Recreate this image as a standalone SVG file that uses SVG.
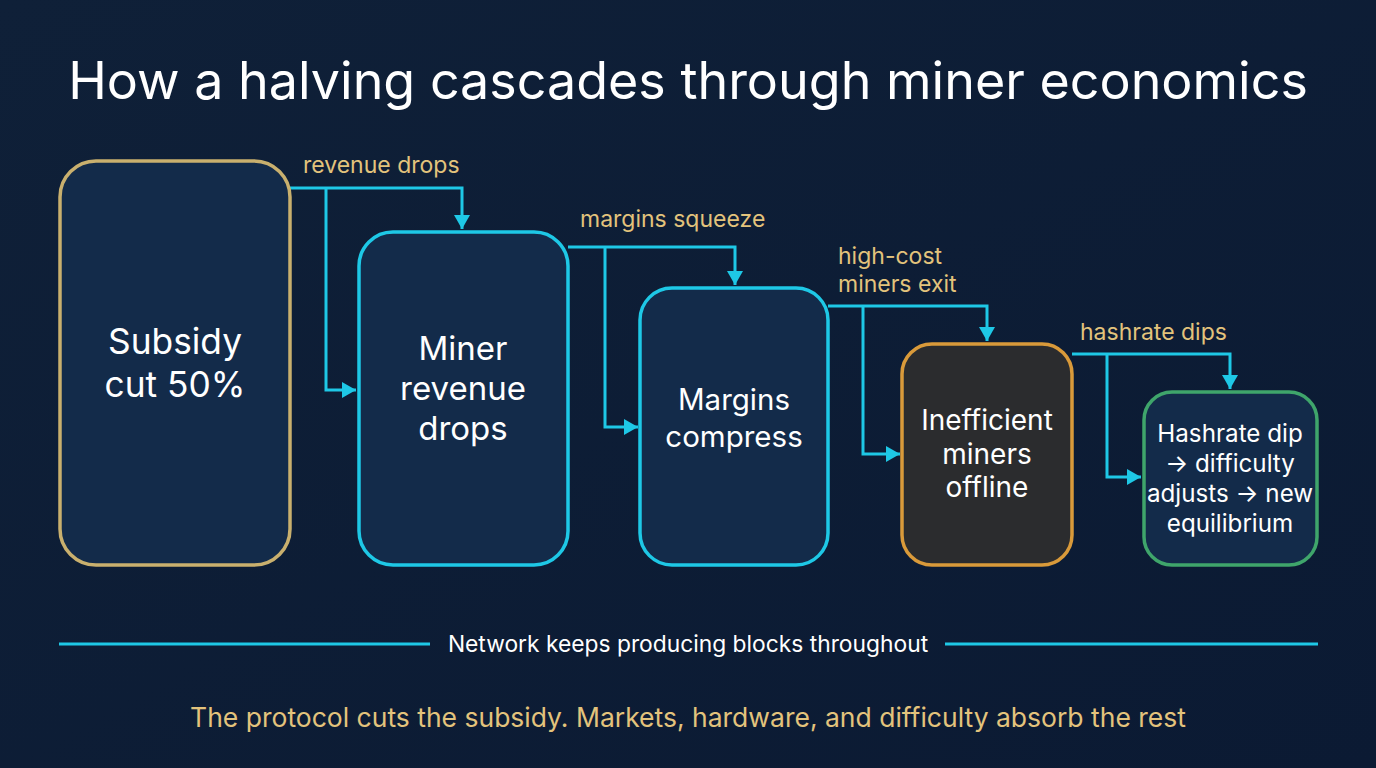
<svg xmlns="http://www.w3.org/2000/svg" width="1376" height="768" viewBox="0 0 1376 768">
<defs>
<linearGradient id="bg" x1="0" y1="0" x2="1" y2="1">
<stop offset="0" stop-color="#0f2038"/>
<stop offset="1" stop-color="#0b1a33"/>
</linearGradient>
<marker id="ah" viewBox="0 0 14 16" refX="14" refY="8" markerWidth="14" markerHeight="16" markerUnits="userSpaceOnUse" orient="auto">
<path d="M0,0 L14,8 L0,16 Z" fill="#1ec8e6"/>
</marker>
<style>
.title{font-family:Inter,"Noto Sans","Liberation Sans",sans-serif;font-size:52px;fill:#ffffff;text-anchor:middle}
.node{fill:#132b4a;stroke-width:3.5}
.nt{font-family:Inter,"Noto Sans","Liberation Sans",sans-serif;fill:#ffffff;text-anchor:middle}
.lbl{font-family:Inter,"Noto Sans","Liberation Sans",sans-serif;font-size:23px;fill:#e3c37c}
.conn{fill:none;stroke:#1ec8e6;stroke-width:3}
.foot{font-family:Inter,"Noto Sans","Liberation Sans",sans-serif;font-size:26.5px;fill:#e3c37c;text-anchor:middle}
.net{font-family:Inter,"Noto Sans","Liberation Sans",sans-serif;font-size:22.8px;fill:#ffffff;text-anchor:middle}
</style>
</defs>
<rect width="1376" height="768" fill="url(#bg)"/>
<text class="title" x="688" y="99">How a halving cascades through miner economics</text>

<g id="connectors">
<path class="conn" d="M290,188 H462 V229" marker-end="url(#ah)"/>
<path class="conn" d="M326,188 V390 H356" marker-end="url(#ah)"/>
<path class="conn" d="M568,247 H735 V285" marker-end="url(#ah)"/>
<path class="conn" d="M605,247 V427 H638" marker-end="url(#ah)"/>
<path class="conn" d="M828,306 H987 V341" marker-end="url(#ah)"/>
<path class="conn" d="M863,306 V454 H900" marker-end="url(#ah)"/>
<path class="conn" d="M1072,354 H1230 V389" marker-end="url(#ah)"/>
<path class="conn" d="M1107,354 V477 H1141" marker-end="url(#ah)"/>
<text class="lbl" x="303" y="173">revenue drops</text>
<text class="lbl" x="580" y="227">margins squeeze</text>
<text class="lbl" x="838" y="264">high-cost</text>
<text class="lbl" x="838" y="292">miners exit</text>
<text class="lbl" x="1080" y="340">hashrate dips</text>
</g>

<g id="n1">
<rect class="node" x="60" y="161" width="230" height="404" rx="36" stroke="#c9b06e"/>
<text class="nt" font-size="35.3" x="175" y="354">Subsidy</text>
<text class="nt" font-size="35.3" x="175" y="397">cut 50%</text>
</g>
<g id="n2">
<rect class="node" x="359" y="232" width="209" height="333" rx="34" stroke="#1ec8e6"/>
<text class="nt" font-size="33" x="463" y="360">Miner</text>
<text class="nt" font-size="33" x="463" y="400">revenue</text>
<text class="nt" font-size="33" x="463" y="440">drops</text>
</g>
<g id="n3">
<rect class="node" x="640" y="288" width="188" height="277" rx="32" stroke="#1ec8e6"/>
<text class="nt" font-size="29.5" x="734" y="410">Margins</text>
<text class="nt" font-size="29.5" x="734" y="447">compress</text>
</g>
<g id="n4">
<rect x="902" y="344" width="170" height="221" rx="30" fill="#2b2c2e" stroke="#d99a3a" stroke-width="3.5"/>
<text class="nt" font-size="28" x="987" y="430">Inefficient</text>
<text class="nt" font-size="28" x="987" y="464">miners</text>
<text class="nt" font-size="28" x="987" y="497">offline</text>
</g>
<g id="n5">
<rect class="node" x="1144" y="392" width="173" height="173" rx="28" stroke="#3fa56b"/>
<text class="nt" font-size="24.2" x="1230" y="442">Hashrate dip</text>
<text class="nt" font-size="24.2" x="1230" y="472">→ difficulty</text>
<text class="nt" font-size="24.2" x="1230" y="502">adjusts → new</text>
<text class="nt" font-size="24.2" x="1230" y="532">equilibrium</text>
</g>

<g id="network">
<line x1="59" y1="644" x2="430" y2="644" stroke="#1ec8e6" stroke-width="3"/>
<line x1="945" y1="644" x2="1318" y2="644" stroke="#1ec8e6" stroke-width="3"/>
<text class="net" x="688" y="652">Network keeps producing blocks throughout</text>
</g>
<text class="foot" x="688" y="727">The protocol cuts the subsidy. Markets, hardware, and difficulty absorb the rest</text>
</svg>
